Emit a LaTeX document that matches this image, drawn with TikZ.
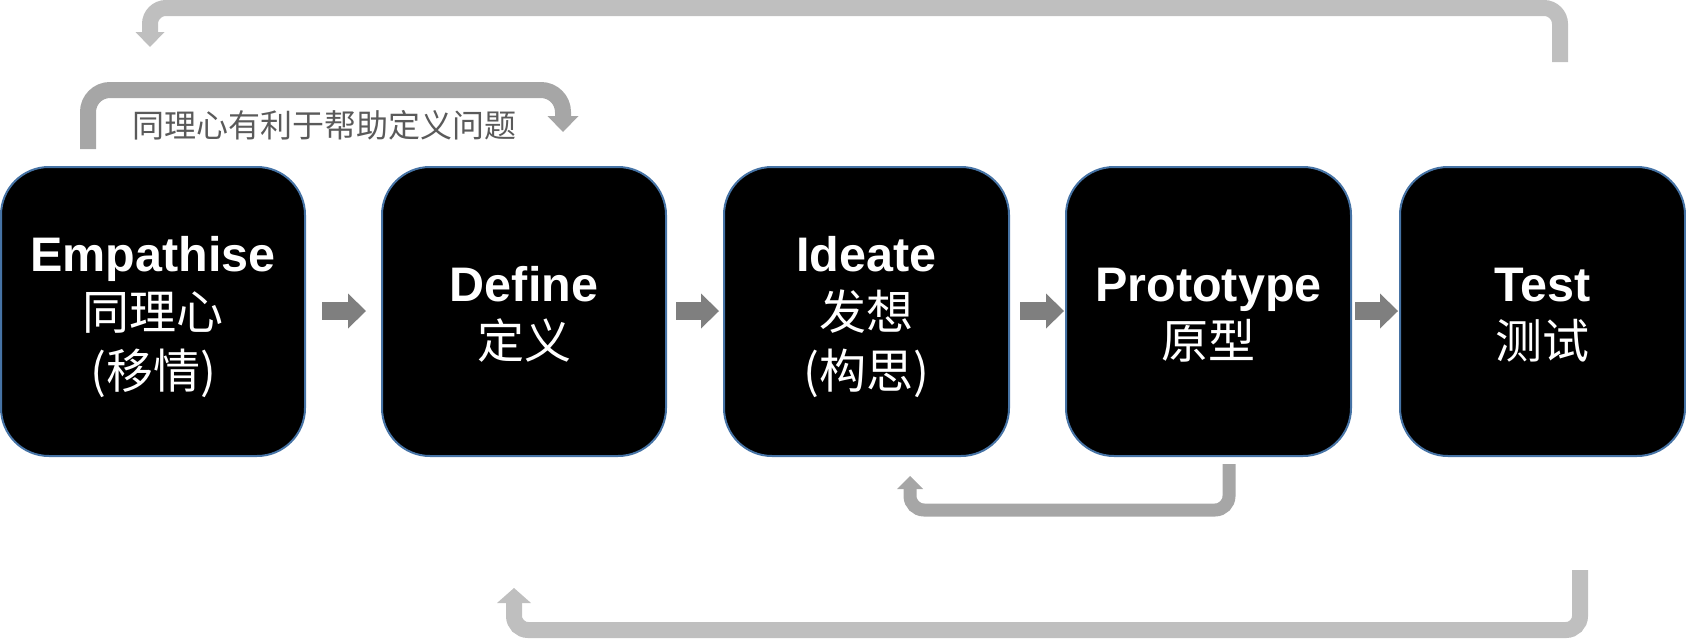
\documentclass[tikz,border=0pt]{standalone}
\usepackage{fontspec}
\setmainfont{Liberation Sans}
\newfontfamily\cjk{Noto Sans CJK SC}
\usetikzlibrary{arrows.meta}
\definecolor{boxline}{RGB}{70,115,165}
\definecolor{midgray}{RGB}{127,127,127}
\definecolor{darkfb}{RGB}{166,166,166}
\definecolor{lightfb}{RGB}{191,191,191}
\definecolor{notegray}{RGB}{90,90,90}
\begin{document}
\begin{tikzpicture}[x=1pt,y=-1pt,
  stage/.style={draw=boxline, line width=2pt, fill=black, rounded corners=48pt,
    minimum height=289pt, inner sep=0pt},
  entxt/.style={text=white, font=\bfseries\fontsize{48.5}{50}\selectfont, anchor=base, inner sep=0pt},
  cntxt/.style={text=white, font=\cjk\fontsize{47}{50}\selectfont, anchor=base, inner sep=0pt},
  flow/.style={draw=midgray, line width=18pt, -{Triangle[width=35pt,length=18pt,line width=0pt]}},
  fbA/.style={draw=lightfb, line width=16pt, rounded corners=16pt},
  fbB/.style={draw=darkfb, line width=16pt, rounded corners=22pt},
  fbC/.style={draw=darkfb, line width=13pt, rounded corners=14pt},
  fbD/.style={draw=lightfb, line width=16pt, rounded corners=14pt},
  note/.style={text=notegray, font=\cjk\fontsize{32}{34}\selectfont, anchor=base, inner sep=0pt}
]
\useasboundingbox (0,0) rectangle (1686,640);

% stage boxes
\node[stage, minimum width=304pt] (b1) at (153,311.5) {};
\node[stage, minimum width=284pt] (b2) at (524,311.5) {};
\node[stage, minimum width=285pt] (b3) at (866.5,311.5) {};
\node[stage, minimum width=285pt] (b4) at (1208.5,311.5) {};
\node[stage, minimum width=285pt] (b5) at (1542.5,311.5) {};

% texts
\node[entxt] (t1a) at (153,271) {Empathise};
\node[cntxt] (t1b) at (153,329) {同理心};
\node[cntxt] (t1c) at (153,388) {(移情)};

\node[entxt] (t2a) at (524,301) {Define};
\node[cntxt] (t2b) at (524,358) {定义};

\node[entxt] (t3a) at (866.5,271) {Ideate};
\node[cntxt] (t3b) at (866.5,329) {发想};
\node[cntxt] (t3c) at (866.5,388) {(构思)};

\node[entxt] (t4a) at (1208.5,301) {Prototype};
\node[cntxt] (t4b) at (1208.5,358) {原型};

\node[entxt] (t5a) at (1542.5,301) {Test};
\node[cntxt] (t5b) at (1542.5,358) {测试};

\node[note] (n1) at (324,137) {同理心有利于帮助定义问题};

% flow arrows between boxes
\coordinate (a1s) at (322,311); \coordinate (a1e) at (366,311);
\coordinate (a2s) at (676,311); \coordinate (a2e) at (719,311);
\coordinate (a3s) at (1020,311); \coordinate (a3e) at (1064,311);
\coordinate (a4s) at (1355,311); \coordinate (a4e) at (1398,311);
\draw[flow] (a1s) -- (a1e);
\draw[flow] (a2s) -- (a2e);
\draw[flow] (a3s) -- (a3e);
\draw[flow] (a4s) -- (a4e);

% feedback loops
\coordinate (fA0) at (1560,62); \coordinate (fA1) at (150,47);
\draw[fbA, -{Triangle[width=29pt,length=15pt,line width=0pt]}]
  (fA0) -- (1560,8) -- (150,8) -- (fA1);

\coordinate (fB0) at (88,149); \coordinate (fB1) at (563,132);
\draw[fbB, -{Triangle[width=31pt,length=16pt,line width=0pt]}]
  (fB0) -- (88,90) -- (563,90) -- (fB1);

\coordinate (fC0) at (1229,464); \coordinate (fC1) at (910,476);
\draw[fbC, -{Triangle[width=26pt,length=13pt,line width=0pt]}]
  (fC0) -- (1229,510) -- (910,510) -- (fC1);

\coordinate (fD0) at (1580,570); \coordinate (fD1) at (514,588);
\draw[fbD, -{Triangle[width=34pt,length=15pt,line width=0pt]}]
  (fD0) -- (1580,630) -- (514,630) -- (fD1);
\end{tikzpicture}
\end{document}
